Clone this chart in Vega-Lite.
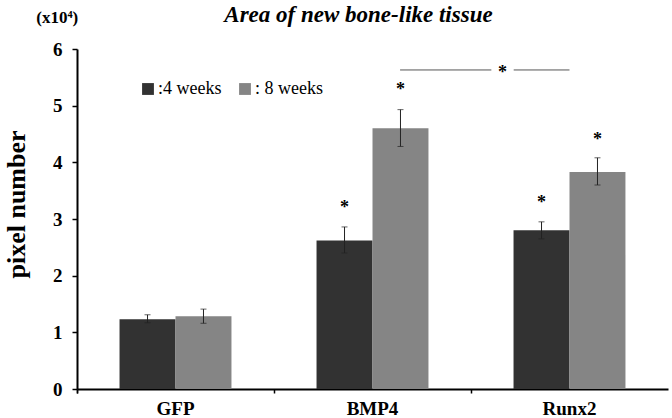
{
  "$schema": "https://vega.github.io/schema/vega-lite/v6.json",
  "width": 591,
  "height": 340,
  "autosize": {"type": "none"},
  "padding": {"left": 77, "top": 49, "right": 4, "bottom": 29},
  "background": "white",
  "title": {
    "text": "Area of new bone-like tissue",
    "font": "Liberation Serif",
    "fontSize": 23,
    "fontWeight": "bold",
    "fontStyle": "italic",
    "color": "black",
    "anchor": "middle",
    "dx": -14,
    "offset": -18
  },
  "config": {
    "view": {"stroke": null},
    "font": "Liberation Serif"
  },
  "datasets": {
    "bars": [
      {"group": "GFP", "week": "4 weeks", "value": 1.23, "lo": 1.17, "hi": 1.31},
      {"group": "GFP", "week": "8 weeks", "value": 1.285, "lo": 1.16, "hi": 1.41},
      {"group": "BMP4", "week": "4 weeks", "value": 2.62, "lo": 2.40, "hi": 2.86, "star": 3.10},
      {"group": "BMP4", "week": "8 weeks", "value": 4.60, "lo": 4.28, "hi": 4.93, "star": 5.18},
      {"group": "Runx2", "week": "4 weeks", "value": 2.80, "lo": 2.65, "hi": 2.95, "star": 3.19},
      {"group": "Runx2", "week": "8 weeks", "value": 3.83, "lo": 3.60, "hi": 4.08, "star": 4.31}
    ]
  },
  "layer": [
    {
      "data": {"name": "bars"},
      "mark": {"type": "bar"},
      "encoding": {
        "x": {
          "field": "group", "type": "nominal",
          "sort": null,
          "scale": {"domain": ["GFP", "BMP4", "Runx2"], "paddingInner": 0, "paddingOuter": 0},
          "axis": {
            "title": null,
            "labelAngle": 0,
            "labelFont": "Liberation Serif",
            "labelFontSize": 19,
            "labelFontWeight": "bold",
            "labelColor": "black",
            "labelPadding": 6,
            "bandPosition": 0,
            "tickExtra": true,
            "tickSize": 4,
            "tickColor": "black",
            "tickWidth": 1.5,
            "domainColor": "black",
            "domainWidth": 2
          }
        },
        "xOffset": {
          "field": "week", "type": "nominal",
          "scale": {"domain": ["4 weeks", "8 weeks"], "paddingInner": 0, "paddingOuter": 0.76}
        },
        "y": {
          "field": "value", "type": "quantitative",
          "scale": {"domain": [0, 6]},
          "axis": {
            "title": "pixel number",
            "titleFont": "Liberation Serif",
            "titleFontSize": 26,
            "titleFontWeight": "bold",
            "titleColor": "black",
            "titleX": -61,
            "titleY": 155,
            "titleBaseline": "middle",
            "titleAngle": -90,
            "values": [0, 1, 2, 3, 4, 5, 6],
            "format": "d",
            "grid": false,
            "labelFont": "Liberation Serif",
            "labelFontSize": 19,
            "labelFontWeight": "bold",
            "labelColor": "black",
            "labelPadding": 10,
            "tickSize": 5,
            "tickColor": "black",
            "tickWidth": 1.5,
            "domainColor": "black",
            "domainWidth": 2
          }
        },
        "color": {
          "field": "week", "type": "nominal",
          "scale": {"domain": ["4 weeks", "8 weeks"], "range": ["#323232", "#858585"]},
          "legend": {
            "title": null,
            "orient": "none",
            "legendX": 62,
            "legendY": 31,
            "direction": "horizontal",
            "symbolType": "square",
            "symbolSize": 140,
            "symbolStrokeWidth": 0,
            "labelFont": "Liberation Serif",
            "labelFontSize": 18,
            "labelColor": "black",
            "labelOffset": 1,
            "columnPadding": 14,
            "labelExpr": "datum.label == '4 weeks' ? ':4 weeks' : ': 8 weeks'"
          }
        }
      }
    },
    {
      "data": {"name": "bars"},
      "mark": {"type": "rule", "color": "#222222", "strokeWidth": 1},
      "encoding": {
        "x": {"field": "group", "type": "nominal", "sort": null},
        "xOffset": {"field": "week", "type": "nominal"},
        "y": {"field": "lo", "type": "quantitative"},
        "y2": {"field": "hi"}
      }
    },
    {
      "data": {"name": "bars"},
      "mark": {"type": "tick", "color": "#222222", "thickness": 1, "size": 6},
      "encoding": {
        "x": {"field": "group", "type": "nominal", "sort": null},
        "xOffset": {"field": "week", "type": "nominal"},
        "y": {"field": "lo", "type": "quantitative"}
      }
    },
    {
      "data": {"name": "bars"},
      "mark": {"type": "tick", "color": "#222222", "thickness": 1, "size": 6},
      "encoding": {
        "x": {"field": "group", "type": "nominal", "sort": null},
        "xOffset": {"field": "week", "type": "nominal"},
        "y": {"field": "hi", "type": "quantitative"}
      }
    },
    {
      "data": {"name": "bars"},
      "transform": [{"filter": "isValid(datum.star)"}],
      "mark": {"type": "text", "text": "*", "font": "Liberation Serif", "fontSize": 18, "fontWeight": "bold", "color": "black", "baseline": "alphabetic", "align": "center"},
      "encoding": {
        "x": {"field": "group", "type": "nominal", "sort": null},
        "xOffset": {"field": "week", "type": "nominal"},
        "y": {"field": "star", "type": "quantitative"}
      }
    },
    {
      "data": {"values": [{"a": "BMP4", "b": "Runx2", "y": 5.63}]},
      "mark": {"type": "rule", "color": "#555555", "strokeWidth": 1},
      "encoding": {
        "x": {"field": "a", "type": "nominal", "sort": null, "bandPosition": 0.64},
        "x2": {"field": "b"},
        "y": {"field": "y", "type": "quantitative"}
      }
    },
    {
      "data": {"values": [{"a": "BMP4", "y": 5.63}]},
      "mark": {"type": "point", "shape": "square", "size": 500, "filled": true, "color": "white", "opacity": 1},
      "encoding": {
        "x": {"field": "a", "type": "nominal", "sort": null, "bandPosition": 1.16},
        "y": {"field": "y", "type": "quantitative"}
      }
    },
    {
      "data": {"values": [{"a": "BMP4", "y": 5.49}]},
      "mark": {"type": "text", "text": "*", "font": "Liberation Serif", "fontSize": 18, "fontWeight": "bold", "color": "black", "baseline": "alphabetic", "align": "center"},
      "encoding": {
        "x": {"field": "a", "type": "nominal", "sort": null, "bandPosition": 1.16},
        "y": {"field": "y", "type": "quantitative"}
      }
    },
    {
      "data": {"values": [{"a": "GFP", "y": 6.55, "t": "(x10⁴)"}]},
      "mark": {"type": "text", "font": "Liberation Serif", "fontSize": 17, "fontWeight": "bold", "color": "black", "baseline": "middle", "align": "center"},
      "encoding": {
        "x": {"field": "a", "type": "nominal", "sort": null, "bandPosition": -0.1},
        "y": {"field": "y", "type": "quantitative"},
        "text": {"field": "t"}
      }
    }
  ]
}
